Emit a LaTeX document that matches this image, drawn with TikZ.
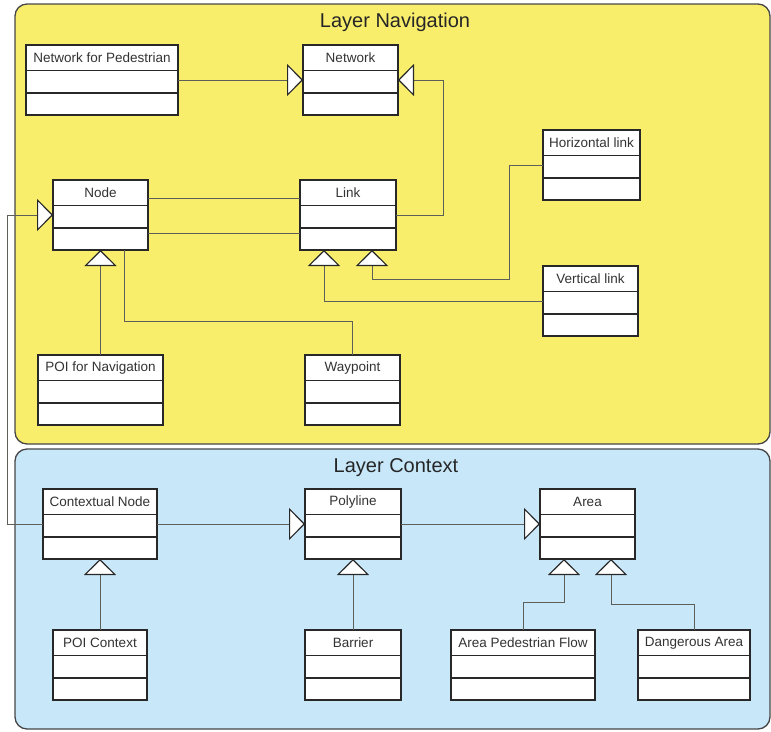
\documentclass[tikz,border=0pt]{standalone}
\usepackage{fontspec}
\setmainfont{Liberation Sans}
\usetikzlibrary{arrows.meta}
\definecolor{navyellow}{RGB}{248,238,108}
\definecolor{ctxblue}{RGB}{200,232,250}
\definecolor{edgegray}{RGB}{70,70,70}
\definecolor{linegray}{RGB}{95,95,90}
\definecolor{boxedge}{RGB}{40,40,40}
\tikzset{
 panel/.style={draw=edgegray, line width=1.3pt, rounded corners=12pt},
 classbox/.style={draw=boxedge, fill=white, line width=1.1pt, rectangle, anchor=north west, inner sep=0pt, outer sep=0pt, minimum height=70pt},
 classname/.style={font=\fontsize{13.5}{15}\selectfont, text=black!80, inner sep=0pt},
 conn/.style={draw=linegray, line width=0.8pt},
 gen/.style={conn, -{Triangle[open, length=16pt, width=32pt, fill=white, color=boxedge, line width=1.1pt]}},
 paneltitle/.style={font=\fontsize{20}{24}\selectfont, text=black!85, inner sep=0pt}
}
\newcommand\umlclass[5]{%
  \node[classbox, minimum width=#4pt] (#1) at (#2,#3) {};
  \node[classname] (#1-t) at ([yshift=-13pt]#1.north) {#5};
  \draw[boxedge, line width=1.1pt] ([yshift=-25.5pt]#1.north west) -- ([yshift=-25.5pt]#1.north east)
     ([yshift=-48pt]#1.north west) -- ([yshift=-48pt]#1.north east);
}
\begin{document}
\begin{tikzpicture}[x=1pt, y=-1pt]
\useasboundingbox (0,0) rectangle (771,731);
% panels
\draw[panel, fill=navyellow] (15,4) rectangle (770,444);
\draw[panel, fill=ctxblue] (15,449) rectangle (770,729);
\node[paneltitle] (navtitle) at (395,22) {Layer Navigation};
\node[paneltitle] (ctxtitle) at (396,468) {Layer Context};
% classes, navigation layer
\umlclass{netped}{26}{45}{152}{Network for Pedestrian}
\umlclass{network}{303}{45}{95}{Network}
\umlclass{node}{53}{180}{95}{Node}
\umlclass{link}{300}{180}{96}{Link}
\umlclass{hlink}{543}{130}{97}{Horizontal link}
\umlclass{vlink}{543}{266}{95}{Vertical link}
\umlclass{poinav}{38}{355}{125}{POI for Navigation}
\umlclass{waypoint}{305}{355}{95}{Waypoint}
% classes, context layer
\umlclass{cnode}{43}{489}{114}{Contextual Node}
\umlclass{polyline}{305}{489}{96}{Polyline}
\umlclass{area}{540}{489}{95}{Area}
\umlclass{poictx}{53}{630}{94}{POI Context}
\umlclass{barrier}{305}{630}{96}{Barrier}
\umlclass{apf}{451}{630}{144}{Area Pedestrian Flow}
\umlclass{danger}{638}{630}{112}{Dangerous Area}
% connectors, navigation layer
\draw[gen] (netped.east) -- (network.west);
\draw[gen] (link.east) -- ++(47,0) |- (network.east);
\draw[conn] ([yshift=-18pt]node.north east) -- ([yshift=-18pt]link.north west);
\draw[conn] ([yshift=-53pt]node.north east) -- ([yshift=-53pt]link.north west);
\draw[gen] (hlink.west) -| (509,279) -| ([xshift=24pt]link.south);
\draw[gen] (vlink.west) -| ([xshift=-24pt]link.south);
\draw[gen] (poinav.north) -- (node.south);
\draw[conn] (waypoint.north) -- ++(0,-34) -| ([xshift=24pt]node.south);
% cross-layer
\draw[gen] (cnode.west) -- (7,524) |- (node.west);
% connectors, context layer
\draw[gen] (cnode.east) -- (polyline.west);
\draw[gen] (polyline.east) -- (area.west);
\draw[gen] (poictx.north) -- (cnode.south);
\draw[gen] (barrier.north) -- (polyline.south);
\draw[gen] (apf.north) -- ++(0,-28) -| ([xshift=-23.5pt]area.south);
\draw[gen] (danger.north) -- ++(0,-26) -| ([xshift=23.5pt]area.south);
\end{tikzpicture}
\end{document}
